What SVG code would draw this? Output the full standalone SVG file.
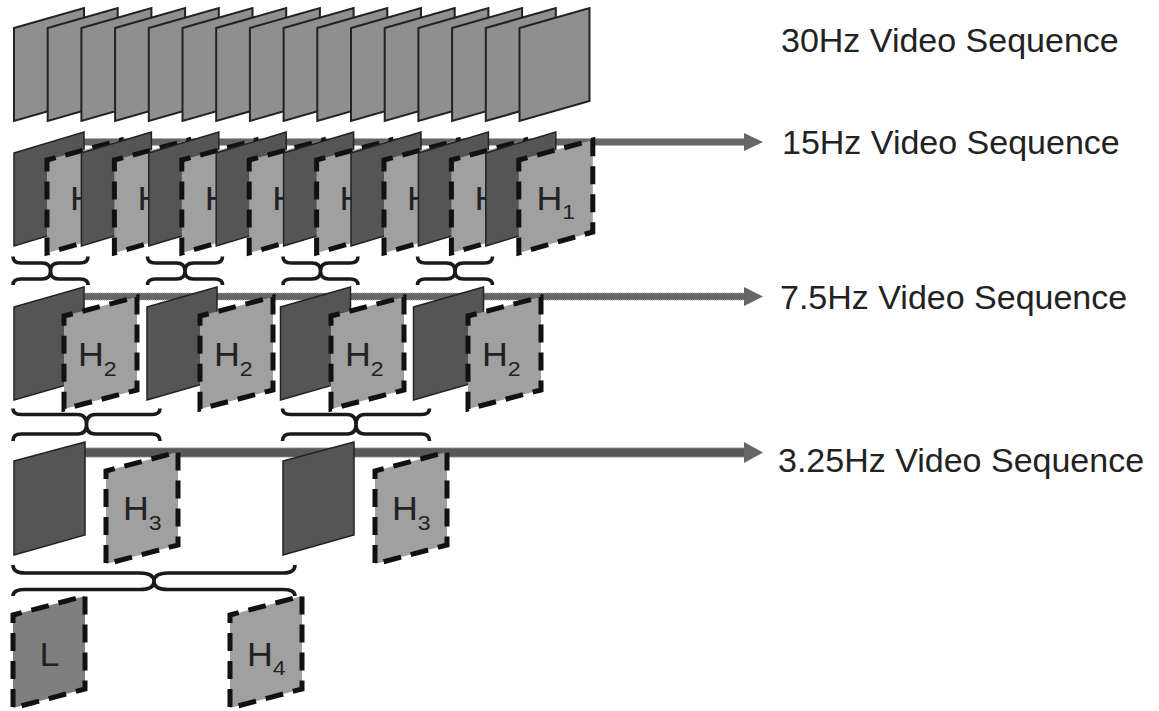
<svg xmlns="http://www.w3.org/2000/svg" width="1159" height="711" viewBox="0 0 1159 711">
<style>
.f30{fill:#8f8f8f;stroke:#222;stroke-width:2;stroke-linejoin:miter}
.dk{fill:#555;stroke:#222;stroke-width:1.5}
.lt{fill:#a0a0a0;stroke:#111;stroke-width:5;stroke-dasharray:18 10;stroke-dashoffset:9}
.lo{fill:#7f7f7f;stroke:#111;stroke-width:5;stroke-dasharray:18 10;stroke-dashoffset:9}
.lbl{font-family:"Liberation Sans",Arial,sans-serif;font-size:32.5px;fill:#222}
.sub{font-size:21px}
.cap{font-family:"Liberation Sans",Arial,sans-serif;font-size:34px;fill:#222}
.brace{fill:none;stroke:#1a1a1a;stroke-width:3.6}
.shaft{fill:#666;stroke:#aaa;stroke-width:1;stroke-dasharray:1 1}
.shaft4{fill:#595959;stroke:#888;stroke-width:0.8}
.head{fill:#666}
</style>
<rect width="1159" height="711" fill="#fff"/>

<g id="connectors">
  <rect class="shaft" x="84" y="138.5" width="661" height="7"/>
  <polygon class="head" points="744,133 763,142 744,151"/>
  <rect class="shaft" x="84" y="293" width="661" height="7"/>
  <polygon class="head" points="744,287 763,296.5 744,306"/>
  <rect class="shaft4" x="84" y="448" width="661" height="9"/>
  <polygon class="head" points="744,442 763,452.5 744,463"/>
</g>

<g id="seq30">
  <polygon class="f30" points="14,28 84,8 84,101 14,121"/>
  <polygon class="f30" points="47.7,28 117.7,8 117.7,101 47.7,121"/>
  <polygon class="f30" points="81.4,28 151.4,8 151.4,101 81.4,121"/>
  <polygon class="f30" points="115.1,28 185.1,8 185.1,101 115.1,121"/>
  <polygon class="f30" points="148.8,28 218.8,8 218.8,101 148.8,121"/>
  <polygon class="f30" points="182.5,28 252.5,8 252.5,101 182.5,121"/>
  <polygon class="f30" points="216.2,28 286.2,8 286.2,101 216.2,121"/>
  <polygon class="f30" points="249.9,28 319.9,8 319.9,101 249.9,121"/>
  <polygon class="f30" points="283.6,28 353.6,8 353.6,101 283.6,121"/>
  <polygon class="f30" points="317.3,28 387.3,8 387.3,101 317.3,121"/>
  <polygon class="f30" points="351,28 421,8 421,101 351,121"/>
  <polygon class="f30" points="384.7,28 454.7,8 454.7,101 384.7,121"/>
  <polygon class="f30" points="418.4,28 488.4,8 488.4,101 418.4,121"/>
  <polygon class="f30" points="452.1,28 522.1,8 522.1,101 452.1,121"/>
  <polygon class="f30" points="485.8,28 555.8,8 555.8,101 485.8,121"/>
  <polygon class="f30" points="519.5,28 589.5,8 589.5,101 519.5,121"/>
</g>

<g id="seq15">
  <polygon class="dk" points="14,153 84,132 84,225 14,246"/>
  <polygon class="lt" points="47,160 121,140 121,232 47,253"/>
  <text class="lbl" transform="translate(70,210) scale(1.1,1)">H</text>
  <polygon class="dk" points="81.4,153 151.4,132 151.4,225 81.4,246"/>
  <polygon class="lt" points="114.4,160 188.4,140 188.4,232 114.4,253"/>
  <text class="lbl" transform="translate(137.4,210) scale(1.1,1)">H</text>
  <polygon class="dk" points="148.8,153 218.8,132 218.8,225 148.8,246"/>
  <polygon class="lt" points="181.8,160 255.8,140 255.8,232 181.8,253"/>
  <text class="lbl" transform="translate(204.8,210) scale(1.1,1)">H</text>
  <polygon class="dk" points="216.2,153 286.2,132 286.2,225 216.2,246"/>
  <polygon class="lt" points="249.2,160 323.2,140 323.2,232 249.2,253"/>
  <text class="lbl" transform="translate(272.2,210) scale(1.1,1)">H</text>
  <polygon class="dk" points="283.6,153 353.6,132 353.6,225 283.6,246"/>
  <polygon class="lt" points="316.6,160 390.6,140 390.6,232 316.6,253"/>
  <text class="lbl" transform="translate(339.6,210) scale(1.1,1)">H</text>
  <polygon class="dk" points="351,153 421,132 421,225 351,246"/>
  <polygon class="lt" points="384,160 458,140 458,232 384,253"/>
  <text class="lbl" transform="translate(407,210) scale(1.1,1)">H</text>
  <polygon class="dk" points="418.4,153 488.4,132 488.4,225 418.4,246"/>
  <polygon class="lt" points="451.4,160 525.4,140 525.4,232 451.4,253"/>
  <text class="lbl" transform="translate(474.4,210) scale(1.1,1)">H</text>
  <polygon class="dk" points="485.8,153 555.8,132 555.8,225 485.8,246"/>
  <polygon class="lt" points="518.8,160 592.8,140 592.8,232 518.8,253"/>
  <text class="lbl" transform="translate(536.5,210) scale(1.1,1)">H<tspan class="sub" dy="9">1</tspan></text>
</g>

<g id="braces12">
  <path class="brace" d="M13,256.5 Q13,263 21,263 L42,263 Q50.5,263 50.5,271 Q50.5,263 59,263 L80,263 Q88,263 88,256.5 M13,285 Q13,279 21,279 L42,279 Q50.5,279 50.5,271 Q50.5,279 59,279 L80,279 Q88,279 88,285"/>
  <path class="brace" d="M147.5,256.5 Q147.5,263 155.5,263 L176.5,263 Q185,263 185,271 Q185,263 193.5,263 L214.5,263 Q222.5,263 222.5,256.5 M147.5,285 Q147.5,279 155.5,279 L176.5,279 Q185,279 185,271 Q185,279 193.5,279 L214.5,279 Q222.5,279 222.5,285"/>
  <path class="brace" d="M283,256.5 Q283,263 291,263 L312,263 Q320.5,263 320.5,271 Q320.5,263 329,263 L350,263 Q358,263 358,256.5 M283,285 Q283,279 291,279 L312,279 Q320.5,279 320.5,271 Q320.5,279 329,279 L350,279 Q358,279 358,285"/>
  <path class="brace" d="M417.5,256.5 Q417.5,263 425.5,263 L446.5,263 Q455,263 455,271 Q455,263 463.5,263 L484.5,263 Q492.5,263 492.5,256.5 M417.5,285 Q417.5,279 425.5,279 L446.5,279 Q455,279 455,271 Q455,279 463.5,279 L484.5,279 Q492.5,279 492.5,285"/>
</g>

<g id="seq7_5">
  <polygon class="dk" points="14,307 84,287 84,380 14,400"/>
  <polygon class="lt" points="64,316 137,297 137,390 64,409"/>
  <text class="lbl" transform="translate(78,366) scale(1.1,1)">H<tspan class="sub" dy="10">2</tspan></text>
  <polygon class="dk" points="147,307 217,287 217,380 147,400"/>
  <polygon class="lt" points="200,316 273,297 273,390 200,409"/>
  <text class="lbl" transform="translate(214,366) scale(1.1,1)">H<tspan class="sub" dy="10">2</tspan></text>
  <polygon class="dk" points="280.5,307 350.5,287 350.5,380 280.5,400"/>
  <polygon class="lt" points="331,316 404,297 404,390 331,409"/>
  <text class="lbl" transform="translate(345,366) scale(1.1,1)">H<tspan class="sub" dy="10">2</tspan></text>
  <polygon class="dk" points="413.5,307 483.5,287 483.5,380 413.5,400"/>
  <polygon class="lt" points="468,316 541,297 541,390 468,409"/>
  <text class="lbl" transform="translate(482,366) scale(1.1,1)">H<tspan class="sub" dy="10">2</tspan></text>
</g>

<g id="braces23">
  <path class="brace" d="M13,408.5 Q13,414.5 21,414.5 L77.5,414.5 Q86.5,414.5 86.5,424.5 Q86.5,414.5 95.5,414.5 L152,414.5 Q160,414.5 160,408.5 M13,441 Q13,434 21,434 L77.5,434 Q86.5,434 86.5,424.5 Q86.5,434 95.5,434 L152,434 Q160,434 160,441"/>
  <path class="brace" d="M282.5,408.5 Q282.5,414.5 290.5,414.5 L347,414.5 Q356,414.5 356,424.5 Q356,414.5 365,414.5 L421.5,414.5 Q429.5,414.5 429.5,408.5 M282.5,441 Q282.5,434 290.5,434 L347,434 Q356,434 356,424.5 Q356,434 365,434 L421.5,434 Q429.5,434 429.5,441"/>
</g>

<g id="seq3_25">
  <polygon class="dk" points="14,461 85,442 85,535 14,555"/>
  <polygon class="lt" points="106,471 178,452 178,545 106,564"/>
  <text class="lbl" transform="translate(123,520) scale(1.1,1)">H<tspan class="sub" dy="10">3</tspan></text>
  <polygon class="dk" points="283,461 354,442 354,535 283,555"/>
  <polygon class="lt" points="375,471 447,452 447,545 375,564"/>
  <text class="lbl" transform="translate(392,520) scale(1.1,1)">H<tspan class="sub" dy="10">3</tspan></text>
</g>

<g id="braces34">
  <path class="brace" d="M13,565 Q13,573 25,573 L140,573 Q154,573 154,581.5 Q154,573 168,573 L283,573 Q295,573 295,565 M13,596 Q13,589.5 25,589.5 L140,589.5 Q154,589.5 154,581.5 Q154,589.5 168,589.5 L283,589.5 Q295,589.5 295,596"/>
</g>

<g id="nodeL">
  <polygon class="lo" points="13,615 85,596 85,689 13,708"/>
  <text class="lbl" transform="translate(39.5,666) scale(1.1,1)">L</text>
</g>
<g id="nodeH4">
  <polygon class="lt" points="230,615 302,596 302,689 230,708"/>
  <text class="lbl" transform="translate(247,666) scale(1.1,1)">H<tspan class="sub" dy="9">4</tspan></text>
</g>

<g id="labels">
  <text class="cap" x="781" y="52">30Hz Video Sequence</text>
  <text class="cap" x="782" y="154">15Hz Video Sequence</text>
  <text class="cap" x="780" y="309">7.5Hz Video Sequence</text>
  <text class="cap" x="778" y="472">3.25Hz Video Sequence</text>
</g>
</svg>
